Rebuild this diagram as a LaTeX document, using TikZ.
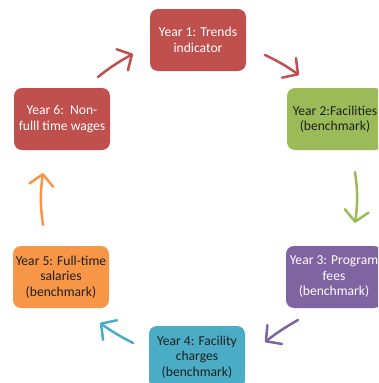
\documentclass[tikz,border=0pt]{standalone}
\usepackage{fontspec}
\setmainfont{Carlito}
\usetikzlibrary{arrows.meta}
\definecolor{cred}{HTML}{C0504D}
\definecolor{cgreen}{HTML}{9BBB59}
\definecolor{cpurple}{HTML}{8064A2}
\definecolor{cblue}{HTML}{4BACC6}
\definecolor{corange}{HTML}{F79646}
\definecolor{ctext}{HTML}{1F1F1F}
\tikzset{
  yearbox/.style={rounded corners=8pt, minimum width=96pt, minimum height=62pt,
    inner sep=0pt, align=center, font=\fontsize{13.6}{15.5}\selectfont},
  cyc/.style={line width=2.5pt, line cap=round,
    -{Straight Barb[length=11pt,width=24pt,line width=2.5pt,round]}}
}
\begin{document}
\begin{tikzpicture}[x=1pt,y=-1pt]
\useasboundingbox (0,0) rectangle (378,383);
\clip (0,0) rectangle (378,383);
\fill[white] (0,0) rectangle (378,383);
\node[yearbox, fill=cred, text=white] (y1) at (198,40) {Year 1: Trends\\indicator};
\node[yearbox, fill=cgreen, text=ctext] (y2) at (335,119) {Year 2:Facilities\\(benchmark)};
\node[yearbox, fill=cpurple, text=white] (y3) at (334,277) {Year 3: Program\\fees\\(benchmark)};
\node[yearbox, fill=cblue, text=ctext] (y4) at (197,357) {Year 4: Facility\\charges\\(benchmark)};
\node[yearbox, fill=corange, text=ctext] (y5) at (61,277) {Year 5: Full-time\\salaries\\(benchmark)};
\node[yearbox, fill=cred, text=white] (y6) at (62,119) {Year 6:\ \ Non-\\fulll time wages};
\coordinate (a1s) at (98,77);  \coordinate (a1e) at (133,54);
\coordinate (a2s) at (265,55); \coordinate (a2e) at (299,75);
\coordinate (a3s) at (355,172); \coordinate (a3e) at (355,223);
\coordinate (a4s) at (298,320); \coordinate (a4e) at (265,342);
\coordinate (a5s) at (133,343); \coordinate (a5e) at (100,323);
\coordinate (a6s) at (43,225); \coordinate (a6e) at (43,173);
\draw[cyc, cred] (a1s) to[bend left=5] (a1e);
\draw[cyc, cred] (a2s) to[bend left=5] (a2e);
\draw[cyc, cgreen] (a3s) to[bend left=8] (a3e);
\draw[cyc, cpurple] (a4s) to[bend right=4] (a4e);
\draw[cyc, cblue] (a5s) to[bend left=4] (a5e);
\draw[cyc, corange] (a6s) to[bend left=8] (a6e);
\end{tikzpicture}
\end{document}
